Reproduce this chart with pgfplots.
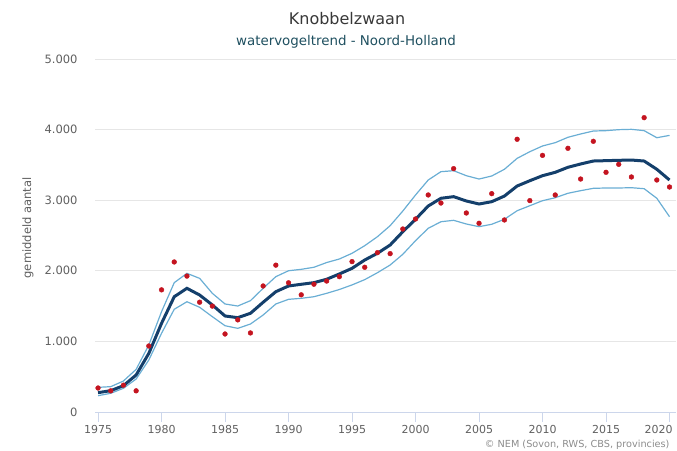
\documentclass[border=0pt]{standalone}
\usepackage{fontspec}
\setmainfont{DejaVu Sans}
\usepackage{pgfplots}
\pgfplotsset{compat=1.18}
\definecolor{trend}{HTML}{143F6B}
\definecolor{band}{HTML}{6AAED4}
\definecolor{dots}{HTML}{C41420}
\definecolor{gridc}{HTML}{E6E6E6}
\definecolor{axc}{HTML}{CCD6EB}
\definecolor{tickc}{HTML}{606060}
\definecolor{subc}{HTML}{1F5060}
\begin{document}
\begin{tikzpicture}
\useasboundingbox (0,0) rectangle (677bp,451bp);
\node[font=\fontsize{16bp}{18bp}\selectfont, text=black!78, anchor=base] at (347bp,426bp) {Knobbelzwaan};
\node[font=\fontsize{13.4bp}{15bp}\selectfont, text=subc, anchor=base] at (346bp,405bp) {watervogeltrend - Noord-Holland};
\begin{axis}[
  at={(95bp,39bp)}, anchor=south west,
  scale only axis, width=581bp, height=353bp,
  xmin=1974.76, xmax=2020.51, ymin=0, ymax=5000,
  xtick={1975,1980,...,2020}, ytick={0,1000,...,5000},
  xticklabels={1975,1980,1985,1990,1995,2000,2005,2010,2015,{2020\hspace*{22bp}}},
  scaled y ticks=false,
  axis x line*=bottom, axis y line*=left,
  x axis line style={draw=axc, line width=1bp},
  y axis line style={draw=none},
  ytick style={draw=none},
  xtick style={draw=axc, line width=1bp},
  tick align=outside, major tick length=10bp,
  ymajorgrids, major grid style={draw=gridc, line width=1bp},
  /pgf/number format/assume math mode=true,
  x tick label style={font=\fontsize{11bp}{13bp}\selectfont, text=tickc},
  y tick label style={font=\fontsize{11.5bp}{13bp}\selectfont, text=tickc, /pgf/number format/1000 sep={.}, xshift=-4bp},
  ylabel={gemiddeld aantal},
  every axis y label/.style={at={(axis description cs:0,0.5)}, xshift=-67bp, yshift=7.5bp, rotate=90, anchor=center, font=\fontsize{11.5bp}{13bp}\selectfont, text=tickc},
  clip=false,
]
\addplot[band, line width=1.2bp] coordinates {
(1975,349)(1976,359)(1977,439)(1978,604)(1979,949)(1980,1421)(1981,1832)(1982,1964)(1983,1893)(1984,1681)(1985,1530)(1986,1501)(1987,1577)(1988,1752)(1989,1917)(1990,2001)(1991,2021)(1992,2050)(1993,2117)(1994,2167)(1995,2248)(1996,2356)(1997,2483)(1998,2639)(1999,2847)(2000,3074)(2001,3286)(2002,3404)(2003,3418)(2004,3347)(2005,3300)(2006,3343)(2007,3438)(2008,3593)(2009,3687)(2010,3768)(2011,3815)(2012,3891)(2013,3938)(2014,3980)(2015,3985)(2016,3999)(2017,4004)(2018,3985)(2019,3885)(2020,3918)};
\addplot[band, line width=1.2bp] coordinates {
(1975,231)(1976,265)(1977,336)(1978,467)(1979,737)(1980,1115)(1981,1455)(1982,1562)(1983,1483)(1984,1350)(1985,1222)(1986,1185)(1987,1246)(1988,1374)(1989,1530)(1990,1596)(1991,1610)(1992,1633)(1993,1681)(1994,1735)(1995,1800)(1996,1875)(1997,1973)(1998,2082)(1999,2234)(2000,2427)(2001,2602)(2002,2695)(2003,2715)(2004,2663)(2005,2625)(2006,2659)(2007,2730)(2008,2851)(2009,2922)(2010,2993)(2011,3035)(2012,3098)(2013,3135)(2014,3168)(2015,3173)(2016,3173)(2017,3177)(2018,3163)(2019,3027)(2020,2766)};
\addplot[trend, line width=3bp] coordinates {
(1975,274)(1976,302)(1977,373)(1978,524)(1979,831)(1980,1256)(1981,1633)(1982,1752)(1983,1657)(1984,1516)(1985,1360)(1986,1336)(1987,1398)(1988,1554)(1989,1704)(1990,1785)(1991,1809)(1992,1832)(1993,1880)(1994,1955)(1995,2035)(1996,2153)(1997,2248)(1998,2365)(1999,2554)(2000,2730)(2001,2918)(2002,3027)(2003,3050)(2004,2989)(2005,2946)(2006,2979)(2007,3059)(2008,3201)(2009,3276)(2010,3347)(2011,3395)(2012,3466)(2013,3513)(2014,3555)(2015,3560)(2016,3565)(2017,3569)(2018,3555)(2019,3438)(2020,3286)};
\addplot[only marks, mark=*, mark size=2.4bp, mark options={draw=dots, fill=dots}] coordinates {
(1975,340)(1976,300)(1977,380)(1978,300)(1979,935)(1980,1730)(1981,2125)(1982,1925)(1983,1555)(1984,1500)(1985,1105)(1986,1305)(1987,1120)(1988,1785)(1989,2080)(1990,1830)(1991,1660)(1992,1810)(1993,1855)(1994,1917)(1995,2130)(1996,2050)(1997,2257)(1998,2243)(1999,2592)(2000,2734)(2001,3074)(2002,2960)(2003,3447)(2004,2819)(2005,2673)(2006,3093)(2007,2720)(2008,3863)(2009,2994)(2010,3635)(2011,3074)(2012,3735)(2013,3300)(2014,3834)(2015,3395)(2016,3508)(2017,3329)(2018,4169)(2019,3286)(2020,3187)};
\end{axis}
\node[font=\fontsize{9.7bp}{11bp}\selectfont, text=black!45, anchor=base east] at (673bp,4bp) {© NEM (Sovon, RWS, CBS, provincies)};
\end{tikzpicture}
\end{document}
